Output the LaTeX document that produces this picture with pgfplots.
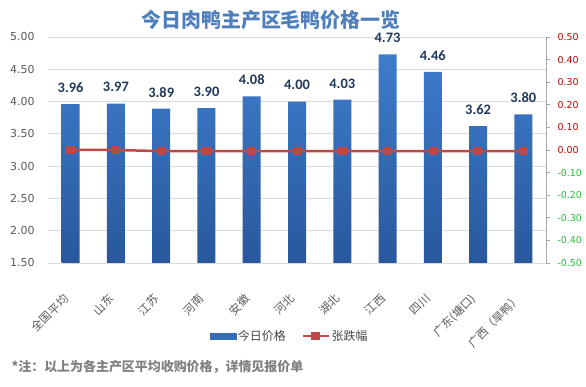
\documentclass[border=0pt]{standalone}
\usepackage{fontspec}
\setmainfont{DejaVu Sans}
\newfontfamily\cjk{Noto Sans CJK SC}
\newfontfamily\carl{Carlito}
\usepackage{pgfplots}
\pgfplotsset{compat=1.18}
\definecolor{bartop}{RGB}{62,124,204}
\definecolor{barbot}{RGB}{40,88,156}
\definecolor{barblue}{RGB}{52,108,184}
\definecolor{linered}{RGB}{192,72,68}
\definecolor{titleblue}{RGB}{79,127,187}
\definecolor{labnavy}{RGB}{31,56,90}
\definecolor{txtgray}{RGB}{89,89,89}
\definecolor{posred}{RGB}{192,0,0}
\definecolor{neggreen}{RGB}{40,190,60}
\begin{document}
\begin{tikzpicture}
\useasboundingbox (0,0) rectangle (586bp,387bp);
\begin{axis}[at={(48bp,124bp)}, anchor=south west, scale only axis,
  width=498bp, height=226bp,
  xmin=-0.5, xmax=10.5, ymin=1.5, ymax=5,
  ytick={1.5,2,2.5,3,3.5,4,4.5,5},
  yticklabel style={/pgf/number format/fixed,/pgf/number format/fixed zerofill,/pgf/number format/precision=2,/pgf/number format/assume math mode=true, font=\fontsize{11}{12}\selectfont, color=txtgray, xshift=-10bp},
  xtick=data,
  xticklabels={全国平均,山东,江苏,河南,安徽,河北,湖北,江西,四川,广东(塘口),广西（旱鸭）},
  xticklabel style={yshift=-27bp, xshift=-2bp, rotate=45, anchor=east, font=\cjk\fontsize{11.5}{12}\selectfont, color=txtgray},
  axis line style={draw=none}, tick style={draw=none},
  ymajorgrids, grid style={gray!30, line width=0.8pt},
  ybar, bar width=18bp,
  nodes near coords,
  nodes near coords style={font=\carl\bfseries\fontsize{14.5}{15}\selectfont, color=labnavy, yshift=8bp, /pgf/number format/fixed,/pgf/number format/fixed zerofill,/pgf/number format/precision=2,/pgf/number format/assume math mode=true},
]
\addplot[draw=none, top color=bartop, bottom color=barbot] coordinates {(0,3.96) (1,3.97) (2,3.89) (3,3.90) (4,4.08) (5,4.00) (6,4.03) (7,4.73) (8,4.46) (9,3.62) (10,3.80)};
\end{axis}
\begin{axis}[at={(48bp,124bp)}, anchor=south west, scale only axis,
  width=498bp, height=226bp,
  xmin=-0.5, xmax=10.5, ymin=-0.5, ymax=0.5,
  axis x line=none, axis y line*=right,
  axis line style={color=gray!70, line width=0.8pt},
  ytick={-0.5,-0.4,-0.3,-0.2,-0.1,0,0.1,0.2,0.3,0.4,0.5},
  yticklabels={\textcolor{neggreen}{-0.50},\textcolor{neggreen}{-0.40},\textcolor{neggreen}{-0.30},\textcolor{neggreen}{-0.20},\textcolor{neggreen}{-0.10},\textcolor{posred}{0.00},\textcolor{posred}{0.10},\textcolor{posred}{0.20},\textcolor{posred}{0.30},\textcolor{posred}{0.40},\textcolor{posred}{0.50}},
  yticklabel style={font=\fontsize{9.5}{11}\selectfont, xshift=4bp},
  tick align=outside, major tick length=4bp, tick style={color=gray!70, line width=0.8pt},
  legend style={draw=none, fill=none, at={(0.486,-0.323)}, anchor=center, legend columns=2, font=\cjk\fontsize{12}{13}\selectfont, text=txtgray!80!black, /tikz/every even column/.append style={column sep=14bp}, inner sep=0pt},
]
\addlegendimage{legend image code/.code={\fill[barblue] (0bp,-3bp) rectangle (25bp,3bp);}}
\addlegendentry{今日价格}
\addplot[color=linered, line width=2.5bp, mark=square*, mark size=3bp, mark options={fill=linered},
  legend image code/.code={\draw[linered, line width=2bp] (0bp,0bp) -- (26bp,0bp); \fill[linered] (10bp,-3bp) rectangle (16bp,3bp);}]
  coordinates {(0,0) (1,0) (2,-0.005) (3,-0.005) (4,-0.005) (5,-0.005) (6,-0.005) (7,-0.005) (8,-0.005) (9,-0.005) (10,-0.005)};
\addlegendentry{张跌幅}
\end{axis}
\node[font=\cjk\bfseries\fontsize{20}{24}\selectfont, color=titleblue] at (271bp,367bp) {今日肉鸭主产区毛鸭价格一览};
\node[anchor=west, font=\cjk\bfseries\fontsize{13}{14}\selectfont, color=gray] at (8bp,20bp) {*注：以上为各主产区平均收购价格，详情见报价单};
\end{tikzpicture}
\end{document}
